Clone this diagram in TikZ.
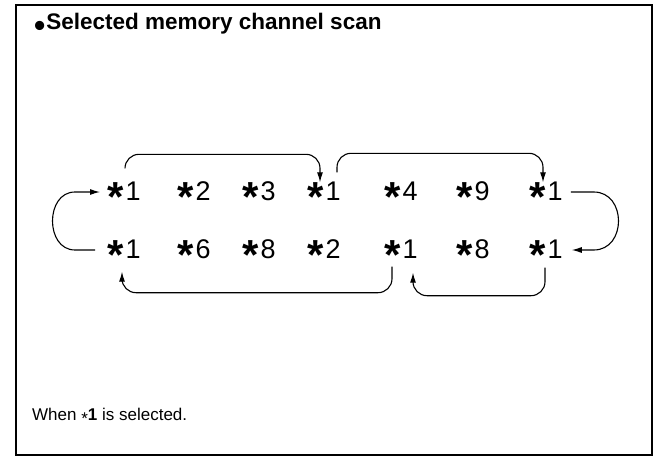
\documentclass[tikz,border=0pt]{standalone}
\usepackage{fontspec}
\setmainfont{Liberation Sans}
\usetikzlibrary{arrows.meta}
\newcommand{\stx}{\raisebox{-11pt}{\fontsize{42}{42}\selectfont\bfseries*}\hspace{2pt}}
\begin{document}
\begin{tikzpicture}[x=1pt,y=-1pt,
  ch/.style={inner sep=0pt,text height=17pt,text depth=0pt,anchor=west,
    font=\fontsize{27}{27}\selectfont},
  conn/.style={line width=1.1pt,-{Latex[length=10pt,width=6pt]}},
  frame/.style={line width=1.2pt}]
\useasboundingbox (0,0) rectangle (658,460);
\draw[frame] (16,5) rectangle (652,455);
\node[anchor=base west,inner sep=0pt,font=\fontsize{22.5}{22.5}\selectfont\bfseries]
  (title) at (34,30) {{\fontsize{32}{32}\selectfont\raisebox{-6.5pt}{•}}\hspace{1pt}Selected memory channel scan};
\node[anchor=base west,inner sep=0pt,font=\fontsize{17}{17}\selectfont]
  (note) at (32,420) {When \raisebox{-4pt}{*}\textbf{1} is selected.};
% row 1
\node[ch] (a1) at (107,192) {\stx 1};
\node[ch] (a2) at (177,192) {\stx 2};
\node[ch] (a3) at (242,192) {\stx 3};
\node[ch] (a4) at (307,192) {\stx 1};
\node[ch] (a5) at (384,192) {\stx 4};
\node[ch] (a6) at (456,192) {\stx 9};
\node[ch] (a7) at (529,192) {\stx 1};
% row 2
\node[ch] (b1) at (107,250) {\stx 1};
\node[ch] (b2) at (177,250) {\stx 6};
\node[ch] (b3) at (242,250) {\stx 8};
\node[ch] (b4) at (307,250) {\stx 2};
\node[ch] (b5) at (384,250) {\stx 1};
\node[ch] (b6) at (456,250) {\stx 8};
\node[ch] (b7) at (529,250) {\stx 1};
% connectors
\draw[conn] ([xshift=-12pt]b1.west) -- ([xshift=-32pt]b1.west)
  .. controls +(-30,0) and +(-30,0) .. ([xshift=-32pt]a1.west) -- ([xshift=-7pt]a1.west);
\draw[conn,rounded corners=14pt] ([xshift=18pt,yshift=15pt]a1.west |- a1.north)
  |- ([xshift=13pt,yshift=29pt]a4.west |- a4.north) -- ([xshift=13pt,yshift=1pt]a4.west |- a4.north);
\draw[conn,rounded corners=14pt] ([xshift=30pt,yshift=11pt]a4.west |- a4.north)
  |- ([xshift=14pt,yshift=30pt]a7.west |- a7.north) -- ([xshift=14pt,yshift=1pt]a7.west |- a7.north);
\draw[conn] ([xshift=8pt]a7.east) -- ([xshift=31pt]a7.east)
  .. controls +(33,0) and +(33,0) .. ([xshift=31pt]b7.east) -- ([xshift=9pt]b7.east);
\draw[conn,rounded corners=14pt] ([xshift=16pt,yshift=-9pt]b7.west |- b7.south)
  |- ([xshift=29pt,yshift=-37pt]b5.west |- b5.south) -- ([xshift=29pt,yshift=-14pt]b5.west |- b5.south);
\draw[conn,rounded corners=14pt] ([xshift=8pt,yshift=-8pt]b5.west |- b5.south)
  |- ([xshift=15pt,yshift=-34pt]b1.west |- b1.south) -- ([xshift=15pt,yshift=-13pt]b1.west |- b1.south);
\end{tikzpicture}
\end{document}
